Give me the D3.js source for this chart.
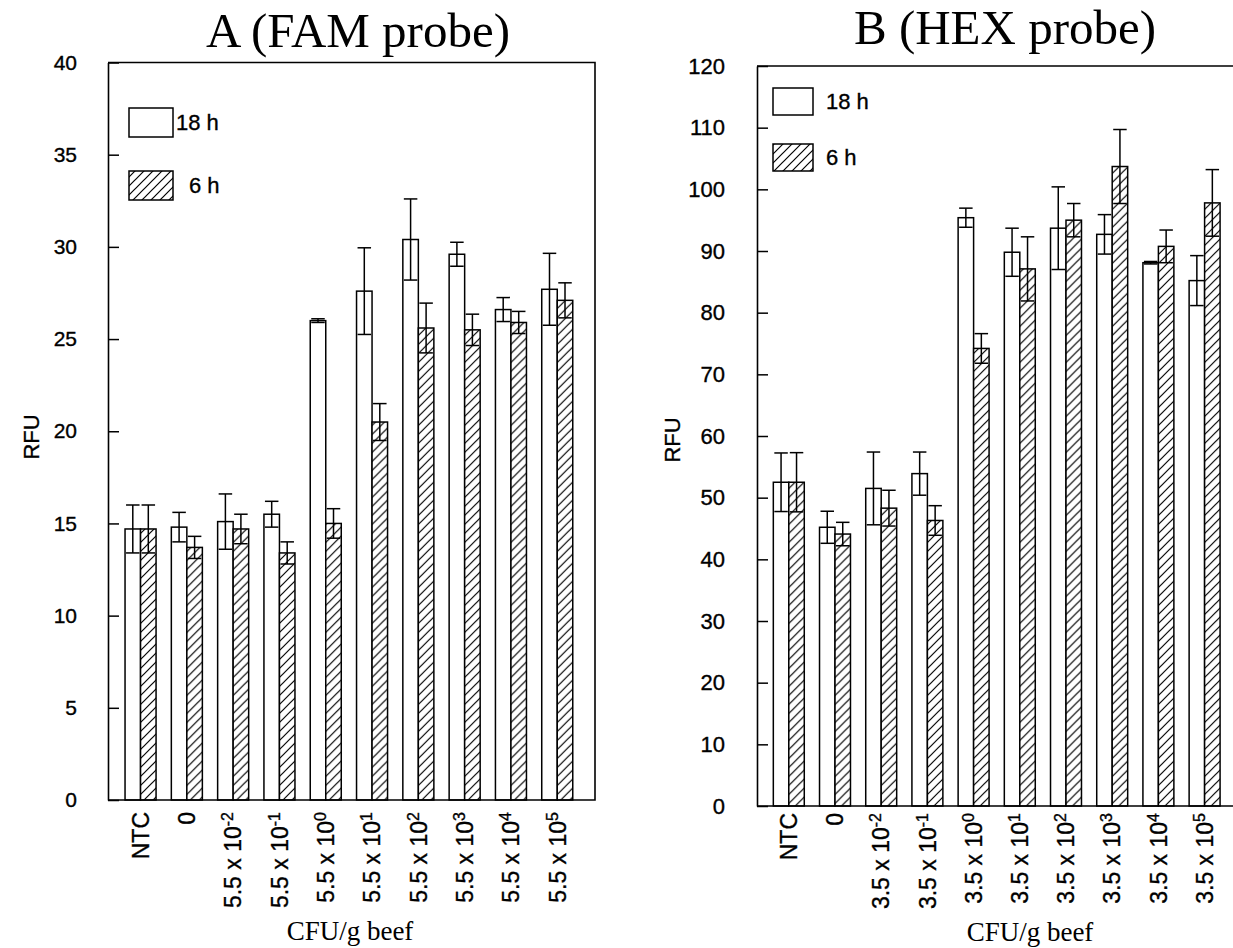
<!DOCTYPE html>
<html>
<head>
<meta charset="utf-8">
<script src="https://cdn.jsdelivr.net/npm/d3@7"></script>
<style>
  body { margin: 0; background: #fff; }
  svg { display: block; }
  text { fill: #000; }
  .sans { stroke: #000; stroke-width: 0.35px; }
</style>
</head>
<body>
<svg id="chart" width="1233" height="948"></svg>
<script>
// Data
const groups = ['18 h', '6 h'];

const famCats = ['NTC', '0', '5.5 x 10^-2', '5.5 x 10^-1', '5.5 x 10^0', '5.5 x 10^1',
                 '5.5 x 10^2', '5.5 x 10^3', '5.5 x 10^4', '5.5 x 10^5'];
const famMean18 = [14.7, 14.8, 15.1, 15.5, 26.0, 27.6, 30.4, 29.6, 26.6, 27.7];
const famErr18  = [1.3, 0.8, 1.5, 0.7, 0.1, 2.35, 2.2, 0.65, 0.65, 1.95];
const famMean6  = [14.7, 13.7, 14.7, 13.4, 15.0, 20.5, 25.6, 25.5, 25.9, 27.1];
const famErr6   = [1.3, 0.6, 0.8, 0.6, 0.8, 1.0, 1.35, 0.85, 0.6, 0.95];
const famTicks  = [0, 5, 10, 15, 20, 25, 30, 35, 40];

const hexCats = ['NTC', '0', '3.5 x 10^-2', '3.5 x 10^-1', '3.5 x 10^0', '3.5 x 10^1',
                 '3.5 x 10^2', '3.5 x 10^3', '3.5 x 10^4', '3.5 x 10^5'];
const hexMean18 = [52.5, 45.2, 51.5, 53.9, 95.4, 89.8, 93.7, 92.7, 88.1, 85.2];
const hexErr18  = [4.75, 2.6, 5.9, 3.5, 1.55, 3.9, 6.7, 3.2, 0.2, 4.05];
const hexMean6  = [52.5, 44.1, 48.3, 46.3, 74.2, 87.1, 95.0, 103.7, 90.75, 97.8];
const hexErr6   = [4.8, 1.9, 2.9, 2.4, 2.4, 5.2, 2.7, 6.0, 2.65, 5.4];
const hexTicks  = [0, 10, 20, 30, 40, 50, 60, 70, 80, 90, 100, 110, 120];

const SANS = '"Liberation Sans", Arial, sans-serif';
const SERIF = '"Liberation Serif", "Times New Roman", serif';

var svg = d3.select('#chart');

// hatch pattern for the 6 h bars
var defs = svg.append('defs');
var hp = defs.append('pattern')
    .attr('id', 'hatch')
    .attr('patternUnits', 'userSpaceOnUse')
    .attr('width', 9).attr('height', 9);
hp.append('rect').attr('width', 9).attr('height', 9).attr('fill', '#fff');
hp.append('path')
    .attr('d', 'M-1,1 l2,-2 M0,9 l9,-9 M8,10 l2,-2')
    .attr('stroke', '#000').attr('stroke-width', 1.2);

function drawPanel(p) {
    var g = svg.append('g');

    var y = d3.scaleLinear().domain(p.yDomain).range([p.bottom, p.top]);
    var x0 = d3.scaleBand().domain(p.cats)
        .range([p.xStart, p.xStart + p.step * p.cats.length])
        .paddingInner(0.33).paddingOuter(0.165);
    var x1 = d3.scaleBand().domain(groups).range([0, x0.bandwidth()]);

    var rows = p.cats.map((c, i) => ({
        cat: c,
        vals: [
            { key: '18 h', mean: p.mean18[i], err: p.err18[i] },
            { key: '6 h', mean: p.mean6[i], err: p.err6[i] }
        ]
    }));

    // bars
    var grp = g.selectAll('.grp').data(rows).enter().append('g')
        .attr('transform', d => 'translate(' + x0(d.cat) + ',0)');

    grp.selectAll('rect').data(d => d.vals).enter().append('rect')
        .attr('x', d => x1(d.key))
        .attr('y', d => y(d.mean))
        .attr('width', x1.bandwidth())
        .attr('height', d => y(0) - y(d.mean))
        .attr('fill', d => d.key == '6 h' ? 'url(#hatch)' : '#fff')
        .attr('stroke', '#000').attr('stroke-width', 1.5);

    // error bars (line + caps at both ends)
    var eb = grp.selectAll('.err').data(d => d.vals).enter().append('g')
        .attr('stroke', '#000').attr('stroke-width', 1.5);
    eb.append('line')
        .attr('x1', d => x1(d.key) + x1.bandwidth() / 2)
        .attr('x2', d => x1(d.key) + x1.bandwidth() / 2)
        .attr('y1', d => y(d.mean - d.err))
        .attr('y2', d => y(d.mean + d.err));
    [1, -1].forEach(s => {
        eb.append('line')
            .attr('x1', d => x1(d.key) + 1)
            .attr('x2', d => x1(d.key) + x1.bandwidth() - 1)
            .attr('y1', d => y(d.mean + s * d.err))
            .attr('y2', d => y(d.mean + s * d.err));
    });

    // frame
    g.append('path')
        .attr('d', 'M' + p.left + ',' + p.top + 'H' + p.right + 'V' + p.bottom + 'H' + p.left)
        .attr('fill', 'none').attr('stroke', '#000').attr('stroke-width', 1.6);

    // y axis with inside ticks
    var ax = g.append('g')
        .attr('transform', 'translate(' + p.left + ',0)')
        .call(d3.axisLeft(y).tickValues(p.ticks).tickSizeInner(-11).tickSizeOuter(0)
            .tickPadding(p.left - p.labelX));
    ax.select('.domain').attr('stroke-width', 1.6);
    ax.selectAll('.tick line').attr('stroke-width', 1.5);
    ax.selectAll('.tick text').classed('sans', true)
        .style('font-family', SANS).style('font-size', p.tickFont + 'px').attr('fill', '#000');

    // x labels, rotated, with superscripts
    var xl = g.selectAll('.xl').data(p.cats).enter().append('text')
        .attr('class', 'sans')
        .attr('transform', d => 'translate(' + (x0(d) + x0.bandwidth() / 2) + ',' + p.xLabelY + ') rotate(-90)')
        .attr('text-anchor', 'end')
        .attr('dy', '0.36em')
        .style('font-family', SANS).style('font-size', '23px');
    xl.each(function (d) {
        var parts = d.split('^');
        var t = d3.select(this);
        t.append('tspan').text(parts[0]);
        if (parts[1]) {
            t.append('tspan').attr('dy', '-0.5em').style('font-size', '16px').text(parts[1]);
        }
    });

    // titles
    g.append('text')
        .attr('x', p.titleX).attr('y', p.titleY)
        .attr('text-anchor', 'middle')
        .style('font-family', SERIF).style('font-size', '49px')
        .text(p.title);
    g.append('text')
        .attr('x', p.xTitleX).attr('y', p.xTitleY)
        .attr('text-anchor', 'middle')
        .style('font-family', SERIF).style('font-size', '27px')
        .text('CFU/g beef');
    g.append('text')
        .attr('class', 'sans')
        .attr('transform', 'translate(' + p.yTitleX + ',' + p.yTitleY + ') rotate(-90)')
        .attr('text-anchor', 'middle')
        .attr('dy', '0.36em')
        .style('font-family', SANS).style('font-size', '22px')
        .text('RFU');

    // legend
    p.legend.forEach((l, i) => {
        g.append('rect')
            .attr('x', p.legX).attr('y', l.y)
            .attr('width', p.legW).attr('height', p.legH)
            .attr('fill', i == 1 ? 'url(#hatch)' : '#fff')
            .attr('stroke', '#000').attr('stroke-width', 1.5);
        g.append('text')
            .attr('class', 'sans')
            .attr('x', l.tx).attr('y', l.y + p.legH / 2)
            .attr('dy', '0.36em')
            .style('font-family', SANS).style('font-size', '22px')
            .text(groups[i]);
    });
}

drawPanel({
    title: 'A (FAM probe)', titleX: 358, titleY: 47,
    cats: famCats, mean18: famMean18, err18: famErr18, mean6: famMean6, err6: famErr6,
    yDomain: [0, 40], ticks: famTicks, tickFont: 21,
    left: 108, right: 595, top: 62.5, bottom: 800,
    xStart: 117.4, step: 46.3,
    labelX: 77, xLabelY: 812,
    xTitleX: 350, xTitleY: 940,
    yTitleX: 31, yTitleY: 437,
    legX: 129, legW: 44, legH: 29,
    legend: [{ y: 108, tx: 176 }, { y: 171, tx: 189 }]
});

drawPanel({
    title: 'B (HEX probe)', titleX: 1005, titleY: 44,
    cats: hexCats, mean18: hexMean18, err18: hexErr18, mean6: hexMean6, err6: hexErr6,
    yDomain: [0, 120], ticks: hexTicks, tickFont: 22,
    left: 757, right: 1245, top: 66, bottom: 806,
    xStart: 765.7, step: 46.2,
    labelX: 725, xLabelY: 813,
    xTitleX: 1030, xTitleY: 941,
    yTitleX: 672, yTitleY: 440,
    legX: 773, legW: 40, legH: 27,
    legend: [{ y: 88, tx: 826 }, { y: 144, tx: 826 }]
});
</script>
</body>
</html>
